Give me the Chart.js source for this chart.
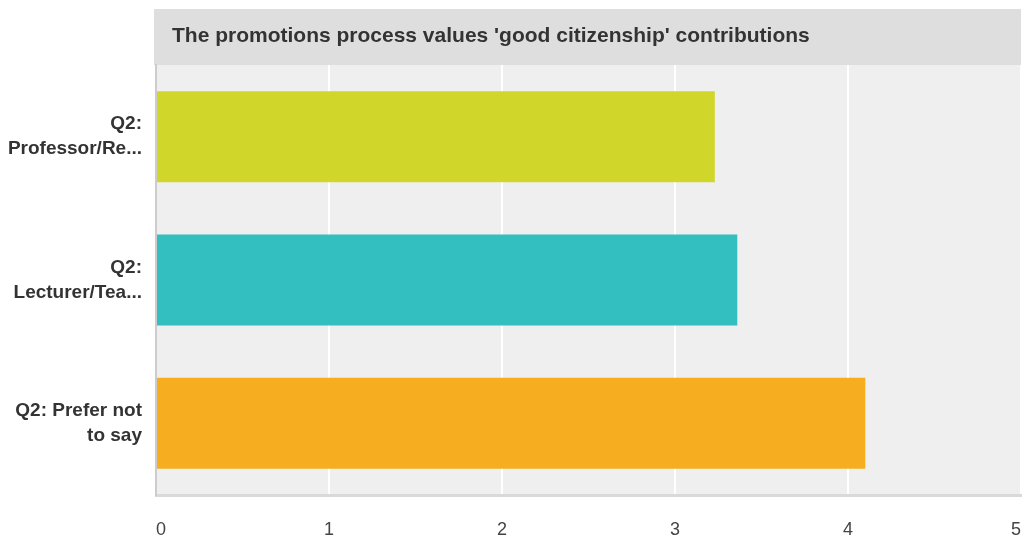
<!DOCTYPE html>
<html>
<head>
<meta charset="utf-8">
<script src="https://cdn.jsdelivr.net/npm/chart.js@4/dist/chart.umd.min.js"></script>
<style>
  html, body { margin: 0; padding: 0; background: #fff; }
  #wrap { width: 1031px; height: 545px; }
</style>
</head>
<body>
<div id="wrap"><canvas id="grafico" width="1031" height="545"></canvas></div>
<script>
const titulo = "The promotions process values 'good citizenship' contributions";
const categorias = [
  ["Q2:", "Professor/Re..."],
  ["Q2:", "Lecturer/Tea..."],
  ["Q2: Prefer not", "to say"]
];
const valores = [3.23, 3.36, 4.10];
const cores = ['#d1d62a', '#33bec0', '#f6ae20'];
const ticksX = [0, 1, 2, 3, 4, 5];

const fonte = "'Liberation Sans', Arial, Helvetica, sans-serif";

// fundo cinza da área do gráfico e faixa do título
const fundo = {
  id: 'fundo',
  beforeDraw(chart) {
    const { ctx, chartArea } = chart;
    ctx.save();
    ctx.fillStyle = '#dedede';
    ctx.fillRect(chartArea.left - 2, 9, chartArea.right - chartArea.left + 2, chartArea.top - 9);
    ctx.fillStyle = '#efefef';
    ctx.fillRect(chartArea.left, chartArea.top, chartArea.right - chartArea.left, chartArea.bottom - chartArea.top);
    ctx.fillStyle = '#333';
    ctx.font = 'bold 21px ' + fonte;
    ctx.textBaseline = 'middle';
    ctx.fillText(titulo, chartArea.left + 16, 36);
    ctx.restore();
  }
};

const ctx = document.getElementById('grafico').getContext('2d');
const grafico = new Chart(ctx, {
  type: 'bar',
  data: {
    labels: categorias,
    datasets: [{
      data: valores,
      backgroundColor: cores,
      categoryPercentage: 1,
      barPercentage: 0.635
    }]
  },
  options: {
    indexAxis: 'y',
    responsive: false,
    animation: false,
    layout: { padding: { top: 65, right: 10, left: 0, bottom: 0 } },
    plugins: {
      legend: { display: false },
      tooltip: { enabled: false }
    },
    scales: {
      x: {
        min: 0,
        max: 5,
        afterBuildTicks: scale => { scale.ticks = ticksX.map(v => ({ value: v })); },
        afterFit: scale => {
          scale.height = 50;
          scale.paddingLeft = 0;
          scale.paddingRight = 0;
        },
        grid: { color: '#ffffff', lineWidth: 2, drawTicks: false },
        border: { color: '#d9d9d9', width: 3 },
        ticks: {
          align: 'inner',
          padding: 24,
          color: '#444',
          font: { family: fonte, size: 18 }
        }
      },
      y: {
        afterFit: scale => { scale.width = 156; },
        grid: { display: false, drawTicks: false },
        border: { color: '#cccccc', width: 2 },
        ticks: {
          padding: 14,
          color: '#333',
          font: { family: fonte, size: 19, weight: 'bold', lineHeight: 1.32 }
        }
      }
    }
  },
  plugins: [fundo]
});
</script>
</body>
</html>
